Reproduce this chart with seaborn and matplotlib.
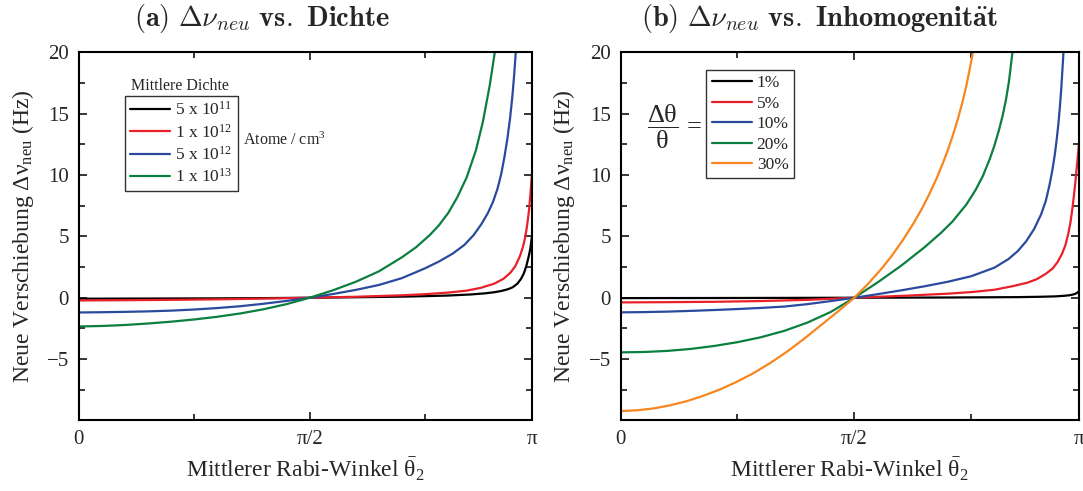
import numpy as np
import matplotlib
matplotlib.use("Agg")
import matplotlib.pyplot as plt
import seaborn as sns

# ---- data, x given as theta/pi ----
# (a) density series
dens_labels = ["5 x 10$^{11}$", "1 x 10$^{12}$", "5 x 10$^{12}$", "1 x 10$^{13}$"]
dens_colors = ["#000000", "#e8202a", "#2b4a9e", "#0a7f3f"]

a_black_x = [0, 0.1, 0.2, 0.3, 0.4, 0.5, 0.6, 0.7, 0.75, 0.8, 0.85, 0.88, 0.9, 0.915, 0.93,
             0.94, 0.95, 0.958, 0.964, 0.969, 0.974, 0.978, 0.981]
a_black_y = [-0.08, -0.07, -0.06, -0.05, -0.03, 0, 0.04, 0.09, 0.13, 0.18, 0.27, 0.36, 0.45, 0.55, 0.7,
             0.86, 1.15, 1.55, 2.0, 2.55, 3.3, 4.0, 4.9]

a_red_x = [0, 0.1, 0.2, 0.3, 0.4, 0.5, 0.6, 0.7, 0.75, 0.8, 0.84, 0.87, 0.9, 0.92, 0.935, 0.945,
           0.955, 0.962, 0.967, 0.971, 0.975, 0.978, 0.981]
a_red_y = [-0.22, -0.2, -0.17, -0.13, -0.07, 0, 0.08, 0.2, 0.29, 0.42, 0.58, 0.8, 1.15, 1.55, 2.05, 2.55,
           3.35, 4.15, 4.95, 5.9, 7.1, 8.4, 9.9]

a_blue_x = [0, 0.05, 0.1, 0.15, 0.2, 0.25, 0.3, 0.35, 0.4, 0.45, 0.5, 0.55, 0.6, 0.65, 0.7, 0.75,
            0.78, 0.81, 0.835, 0.855, 0.872, 0.886, 0.897, 0.907, 0.915, 0.922, 0.928, 0.934, 0.939,
            0.943, 0.947, 0.95]
a_blue_y = [-1.2, -1.18, -1.15, -1.11, -1.05, -0.96, -0.84, -0.69, -0.49, -0.26, 0, 0.3, 0.64, 1.04, 1.6, 2.4,
            2.95, 3.6, 4.3, 5.1, 6.0, 6.9, 7.8, 8.9, 10.1, 11.5, 12.9, 14.6, 16.4,
            18.2, 20.3, 22.2]

a_green_x = [0, 0.05, 0.1, 0.15, 0.2, 0.25, 0.3, 0.35, 0.4, 0.45, 0.5, 0.55, 0.6, 0.65, 0.7, 0.73,
             0.76, 0.78, 0.8, 0.82, 0.84, 0.86, 0.875, 0.89, 0.901, 0.906]
a_green_y = [-2.34, -2.3, -2.22, -2.1, -1.95, -1.77, -1.55, -1.28, -0.94, -0.52, 0, 0.6, 1.3, 2.15, 3.3, 4.1,
             5.1, 5.9, 6.9, 8.2, 9.8, 12.0, 14.3, 17.3, 20.0, 21.5]

# (b) inhomogeneity series
inh_labels = ["1%", "5%", "10%", "20%", "30%"]
inh_colors = ["#000000", "#e8202a", "#2b4a9e", "#0a7f3f", "#f7861f"]

b_black_x = [0, 0.25, 0.5, 0.7, 0.8, 0.85, 0.9, 0.93, 0.95, 0.96, 0.967, 0.973, 0.977, 0.981]
b_black_y = [-0.03, -0.02, 0, 0.02, 0.04, 0.05, 0.08, 0.11, 0.16, 0.2, 0.25, 0.32, 0.4, 0.54]

b_red_x = [0, 0.1, 0.2, 0.3, 0.4, 0.5, 0.6, 0.7, 0.75, 0.8, 0.84, 0.87, 0.89, 0.91, 0.925, 0.935,
           0.945, 0.952, 0.958, 0.963, 0.967, 0.971, 0.975, 0.978, 0.981]
b_red_y = [-0.38, -0.36, -0.33, -0.27, -0.17, 0, 0.15, 0.33, 0.46, 0.65, 0.95, 1.22, 1.5, 1.95, 2.4, 2.9,
           3.6, 4.3, 5.2, 6.2, 7.3, 8.6, 10.1, 11.3, 12.6]

b_blue_x = [0, 0.05, 0.1, 0.15, 0.2, 0.25, 0.3, 0.35, 0.4, 0.45, 0.5, 0.55, 0.6, 0.65, 0.7, 0.75,
            0.8, 0.83, 0.85, 0.868, 0.885, 0.9, 0.91, 0.918, 0.924, 0.929, 0.933, 0.937, 0.94, 0.943,
            0.947, 0.95]
b_blue_y = [-1.19, -1.17, -1.13, -1.07, -1.0, -0.92, -0.83, -0.72, -0.52, -0.27, 0, 0.29, 0.6, 0.93, 1.3, 1.75,
            2.45, 3.15, 3.8, 4.6, 5.6, 6.8, 7.9, 9.2, 10.4, 11.6, 12.8, 14.2, 15.5, 17.0,
            19.5, 21.6]

b_green_x = [0, 0.05, 0.1, 0.15, 0.2, 0.25, 0.3, 0.35, 0.4, 0.45, 0.5, 0.55, 0.6, 0.65, 0.686, 0.71,
             0.74, 0.76, 0.775, 0.79, 0.8, 0.81, 0.818, 0.825, 0.831, 0.838, 0.842]
b_green_y = [-4.45, -4.42, -4.33, -4.17, -3.93, -3.62, -3.22, -2.7, -2.02, -1.15, 0, 1.25, 2.6, 4.1, 5.3, 6.2,
             7.6, 8.8, 9.9, 11.3, 12.4, 13.7, 14.9, 16.2, 17.6, 19.8, 21.3]

b_orange_x = [0, 0.035, 0.07, 0.105, 0.141, 0.176, 0.212, 0.248, 0.284, 0.32, 0.355, 0.39, 0.426, 0.463,
              0.5, 0.53, 0.558, 0.58, 0.604, 0.625, 0.644, 0.66, 0.676, 0.69, 0.701, 0.712, 0.722,
              0.732, 0.74, 0.746, 0.752, 0.758]
b_orange_y = [-9.23, -9.17, -9.02, -8.77, -8.43, -8.0, -7.48, -6.86, -6.15, -5.32, -4.42, -3.42, -2.32, -1.18,
              0, 1.15, 2.35, 3.4, 4.7, 5.95, 7.2, 8.4, 9.7, 11.0, 12.1, 13.35, 14.6,
              16.0, 17.3, 18.4, 19.6, 20.9]

x_end = 0.981  # right edge of the axes, in units of pi

sns.set_style("ticks")
plt.rcParams["font.family"] = ["Liberation Serif", "DejaVu Serif"]
plt.rcParams["mathtext.fontset"] = "custom"
plt.rcParams["mathtext.rm"] = "Liberation Serif"
plt.rcParams["mathtext.it"] = "Liberation Serif:italic"
plt.rcParams["mathtext.bf"] = "Liberation Serif:bold"

fig = plt.figure(figsize=(10.83, 4.91), dpi=100)
ax1 = fig.add_axes([0.0727, 0.1436, 0.4183, 0.75])
ax2 = fig.add_axes([0.5731, 0.1436, 0.4232, 0.75])


def draw(ax, xs, ys, labels, colors):
    for x, y, lab, col in zip(xs, ys, labels, colors):
        sns.lineplot(x=np.array(x) * np.pi, y=y, color=col, linewidth=1.6,
                     label=lab, ax=ax, sort=False)


def style(ax):
    ax.set_xlim(0, x_end * np.pi)
    ax.set_ylim(-10, 20)
    ax.set_xticks([0, np.pi / 2, x_end * np.pi])
    ax.set_xticklabels(["0", "π/2", "π"])
    ax.set_xticks([np.pi / 4, 3 * np.pi / 4], minor=True)
    ax.set_yticks([-5, 0, 5, 10, 15, 20])
    ax.set_yticks([-7.5, -2.5, 2.5, 7.5, 12.5, 17.5], minor=True)
    ax.tick_params(which="both", direction="in", top=True, right=True,
                   width=1.3, labelsize=15, pad=7)
    ax.tick_params(which="major", length=6)
    ax.tick_params(which="minor", length=4)
    for s in ax.spines.values():
        s.set_linewidth(1.5)
        s.set_color("black")
    ax.set_xlabel(r"Mittlerer Rabi-Winkel $\bar{\mathrm{\theta}}_2$", fontsize=17)
    ax.set_ylabel(r"Neue Verschiebung $\Delta\mathrm{\nu}_{\mathrm{neu}}$ (Hz)", fontsize=17)
    ax.xaxis.set_label_coords(0.5, -0.095)
    ax.yaxis.set_label_coords(-0.095, 0.5)


draw(ax1, [a_black_x, a_red_x, a_blue_x, a_green_x],
     [a_black_y, a_red_y, a_blue_y, a_green_y], dens_labels, dens_colors)
draw(ax2, [b_black_x, b_red_x, b_blue_x, b_green_x, b_orange_x],
     [b_black_y, b_red_y, b_blue_y, b_green_y, b_orange_y], inh_labels, inh_colors)
style(ax1)
style(ax2)

leg_kw = dict(loc="upper left", borderaxespad=0, fancybox=False, framealpha=1,
              edgecolor="#333333", fontsize=12.5, handlelength=2.3, handletextpad=0.3,
              labelspacing=0.25, borderpad=0.3)
leg1 = ax1.legend(bbox_to_anchor=(0.102, 0.881), **leg_kw)
leg1.get_frame().set_linewidth(1.0)
leg2 = ax2.legend(bbox_to_anchor=(0.187, 0.952), **leg_kw)
leg2.get_frame().set_linewidth(1.0)

ax1.text(0.2236, 0.908, "Mittlere Dichte", transform=ax1.transAxes,
         ha="center", va="center", fontsize=11.5)
ax1.text(0.363, 0.762, "Atome / cm$^3$", transform=ax1.transAxes,
         ha="left", va="center", fontsize=11.5)
ax2.text(0.118, 0.797, r"$\dfrac{\Delta\mathrm{\theta}}{\mathrm{\theta}}$ =", transform=ax2.transAxes,
         ha="center", va="center", fontsize=19)

fig.text(0.242, 0.962, r"$\mathbf{(a)}\ \Delta\nu_{neu}\ \mathbf{vs.\ Dichte}$",
         ha="center", va="center", fontsize=20.5, math_fontfamily="cm")
fig.text(0.757, 0.962, r"$\mathbf{(b)}\ \Delta\nu_{neu}\ \mathbf{vs.\ Inhomogenit\ddot{a}t}$",
         ha="center", va="center", fontsize=20.5, math_fontfamily="cm")

fig.savefig("out.png", dpi=100)
